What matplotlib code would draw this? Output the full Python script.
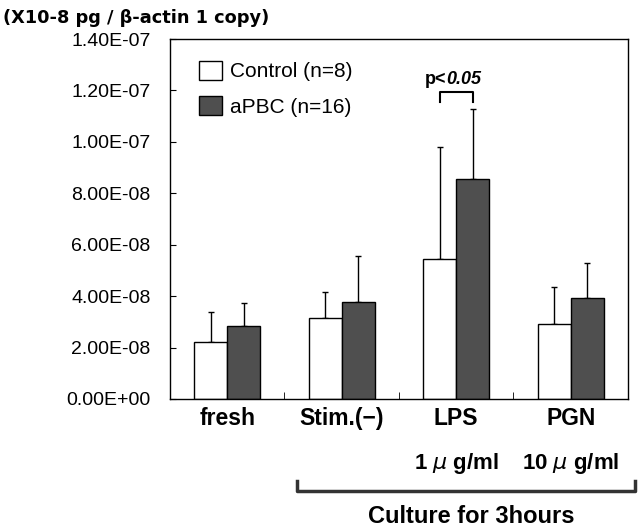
import matplotlib
matplotlib.use('Agg')
import matplotlib.pyplot as plt
import numpy as np
from matplotlib.patches import Patch

plt.rcParams['font.family'] = ['Liberation Sans', 'DejaVu Sans']

# data
groups = ['fresh', 'Stim.(\u2212)', 'LPS', 'PGN']
control_mean = [2.22e-8, 3.15e-8, 5.45e-8, 2.93e-8]
control_sd = [1.17e-8, 1.00e-8, 4.35e-8, 1.43e-8]
apbc_mean = [2.84e-8, 3.77e-8, 8.54e-8, 3.93e-8]
apbc_sd = [0.90e-8, 1.78e-8, 2.72e-8, 1.36e-8]
doses = ['', '', '1 $\\mu$ g/ml', '10 $\\mu$ g/ml']
yticks = np.arange(0, 1.41e-7, 2e-8)

fig = plt.figure(figsize=(6.4, 5.3), dpi=100)
ax = fig.add_axes([0.2656, 0.2472, 0.7156, 0.6792])

x = np.arange(len(groups))
w = 0.29
ax.bar(x - w/2, control_mean, w, color='white', edgecolor='black', linewidth=1, zorder=2)
ax.bar(x + w/2, apbc_mean, w, color='#4f4f4f', edgecolor='black', linewidth=1, zorder=2)
ax.errorbar(x - w/2, control_mean, yerr=[np.zeros(4), control_sd], fmt='none',
            ecolor='black', elinewidth=1, capsize=2.5, capthick=1, zorder=1)
ax.errorbar(x + w/2, apbc_mean, yerr=[np.zeros(4), apbc_sd], fmt='none',
            ecolor='black', elinewidth=1, capsize=2.5, capthick=1, zorder=1)

ax.set_xlim(-0.5, 3.5)
ax.set_ylim(0, 1.4e-7)
ax.set_yticks(yticks)
ax.set_yticklabels(['%.2E' % v for v in yticks], fontsize=14)
ax.tick_params(axis='y', direction='in', length=4, pad=14)
ax.set_xticks(x)
ax.set_xticklabels(groups, fontsize=16.5, fontweight='bold')
ax.tick_params(axis='x', length=0, pad=6)
ax.set_xticks(x[:-1] + 0.5, minor=True)
ax.tick_params(axis='x', which='minor', direction='in', length=5)
for s in ax.spines.values():
    s.set_linewidth(1)

# significance bracket
i = 2
top = 1.195e-7
ax.plot([i - w/2, i - w/2, i + w/2, i + w/2], [top - 0.04e-7, top, top, top - 0.04e-7],
        color='black', lw=1.5)
ax.text(i - 0.09, top + 0.03e-7, 'p<', ha='right', va='baseline', fontsize=13, fontweight='bold')
ax.text(i - 0.09, top + 0.03e-7, '0.05', ha='left', va='baseline', fontsize=13,
        fontweight='bold', style='italic')

# legend
handles = [Patch(facecolor='white', edgecolor='black', label='Control (n=8)'),
           Patch(facecolor='#4f4f4f', edgecolor='black', label='aPBC (n=16)')]
ax.legend(handles=handles, loc='upper left', bbox_to_anchor=(0.063, 0.939), frameon=False,
          fontsize=15, borderpad=0, handlelength=1.1, handleheight=1.0,
          handletextpad=0.4, labelspacing=0.72, borderaxespad=0)

# dose labels and culture bracket
xt = ax.get_xaxis_transform()
for xi, d in zip(x, doses):
    if d:
        ax.text(xi, -0.178, d, transform=xt, ha='center', va='center',
                fontsize=16, fontweight='bold')
ax.plot([0.277, 0.277, 1.015, 1.015], [-0.228, -0.256, -0.256, -0.228],
        transform=ax.transAxes, color='#333333', lw=2.5, clip_on=False)
ax.text(0.657, -0.327, 'Culture for 3hours', transform=ax.transAxes, ha='center',
        va='center', fontsize=17, fontweight='bold')

fig.text(0.005, 0.966, '(X10-8 pg / \u03b2-actin 1 copy)', ha='left', va='center',
         fontsize=12.8, fontweight='bold', family='DejaVu Sans')

fig.savefig('out.png', dpi=100)
